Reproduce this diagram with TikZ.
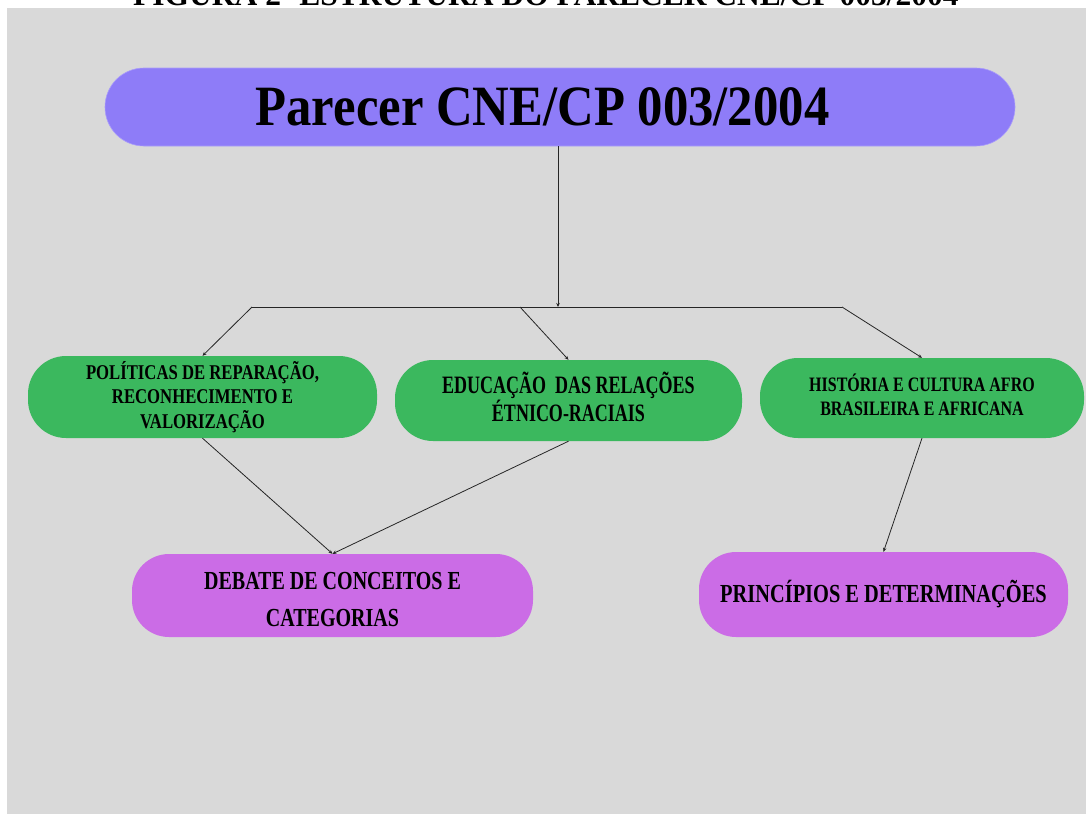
\documentclass[tikz,border=0pt]{standalone}
\usepackage{fontspec}
\setmainfont{Liberation Serif}
\newfontfamily\fTitle{Liberation Serif}[UprightFont=* Bold]
\newfontfamily\fMain{Liberation Serif}[UprightFont=* Bold,FakeStretch=0.89]
\newfontfamily\fA{Liberation Serif}[UprightFont=* Bold,FakeStretch=0.795]
\newfontfamily\fB{Liberation Serif}[UprightFont=* Bold,FakeStretch=0.72]
\newfontfamily\fC{Liberation Serif}[UprightFont=* Bold,FakeStretch=0.78]
\newfontfamily\fD{Liberation Serif}[UprightFont=* Bold,FakeStretch=0.77]
\newfontfamily\fE{Liberation Serif}[UprightFont=* Bold,FakeStretch=0.785]
\usetikzlibrary{arrows.meta}
\definecolor{bgc}{HTML}{D9D9D9}
\definecolor{mainc}{HTML}{8E7CF8}
\definecolor{greenc}{HTML}{3BB85E}
\definecolor{pinkc}{HTML}{CB6CE6}
\newcommand\updepth[1]{\rule[-#1]{0pt}{#1}}
\tikzset{
  pill/.style={rectangle, rounded corners=38pt, inner sep=0pt, align=center, text=black},
  greenbox/.style={pill, fill=greenc},
  pinkbox/.style={pill, fill=pinkc, rounded corners=37pt},
  link/.style={draw=black!85, line width=0.8pt},
  conn/.style={link, -{Stealth[length=4pt,width=3.5pt]}}
}
\begin{document}
\begin{tikzpicture}[x=1pt,y=-1pt]
\useasboundingbox (0,0) rectangle (1086,814);
\clip (0,0) rectangle (1086,814);
\fill[bgc] (7,8) rectangle (1086,814);

\node[anchor=base west, inner sep=0pt, font={\fTitle\fontsize{31.5}{31.5}\selectfont}] (title) at (133,5)
  {FIGURA 2- ESTRUTURA DO PARECER CNE/CP 003/2004};

\node[pill, fill=mainc, draw=mainc!75!white, line width=0.6pt, rounded corners=39pt,
      minimum width=910pt, minimum height=78pt,
      font={\fMain\fontsize{57}{60}\selectfont}] (main) at (560,107)
  {Parecer CNE/CP 003/2004\hspace{35pt}};

\node[greenbox, minimum width=349pt, minimum height=82pt,
      font={\fA\fontsize{21}{24.5}\selectfont}] (b1) at (202.5,397)
  {POLÍTICAS DE REPARAÇÃO,\\ RECONHECIMENTO E\\ VALORIZAÇÃO};
\node[greenbox, minimum width=347pt, minimum height=81pt,
      font={\fB\fontsize{25}{25}\selectfont}] (b2) at (568.5,400.5)
  {EDUCAÇÃO\ \ DAS RELAÇÕES\\ ÉTNICO-RACIAIS\updepth{8pt}};
\node[greenbox, minimum width=324pt, minimum height=80pt,
      font={\fC\fontsize{20.5}{24}\selectfont}] (b3) at (922,398)
  {HISTÓRIA E CULTURA AFRO\\ BRASILEIRA E AFRICANA\updepth{7pt}};
\node[pinkbox, minimum width=401pt, minimum height=83pt,
      font={\fD\fontsize{26}{36.7}\selectfont}] (b4) at (332.5,595.5)
  {\rule{0pt}{25pt}DEBATE DE CONCEITOS E\\ CATEGORIAS};
\node[pinkbox, minimum width=369pt, minimum height=85pt,
      font={\fE\fontsize{26}{30}\selectfont}] (b5) at (883.5,594.5)
  {PRINCÍPIOS E DETERMINAÇÕES};

\coordinate (J) at (558,307);
\coordinate (L) at (252,307);
\coordinate (M) at (520,307);
\coordinate (R) at (842,307);

\draw[conn] (J |- main.south) -- (J);
\draw[link] (L) -- (R);
\draw[conn] (L) -- (b1.north);
\draw[conn] (M) -- (b2.north);
\draw[conn] (R) -- (b3.north);
\draw[conn] (b1.south) -- (b4.north);
\draw[conn] (b2.south) -- (b4.north);
\draw[conn] (b3.south) -- (b5.north);
\end{tikzpicture}
\end{document}
